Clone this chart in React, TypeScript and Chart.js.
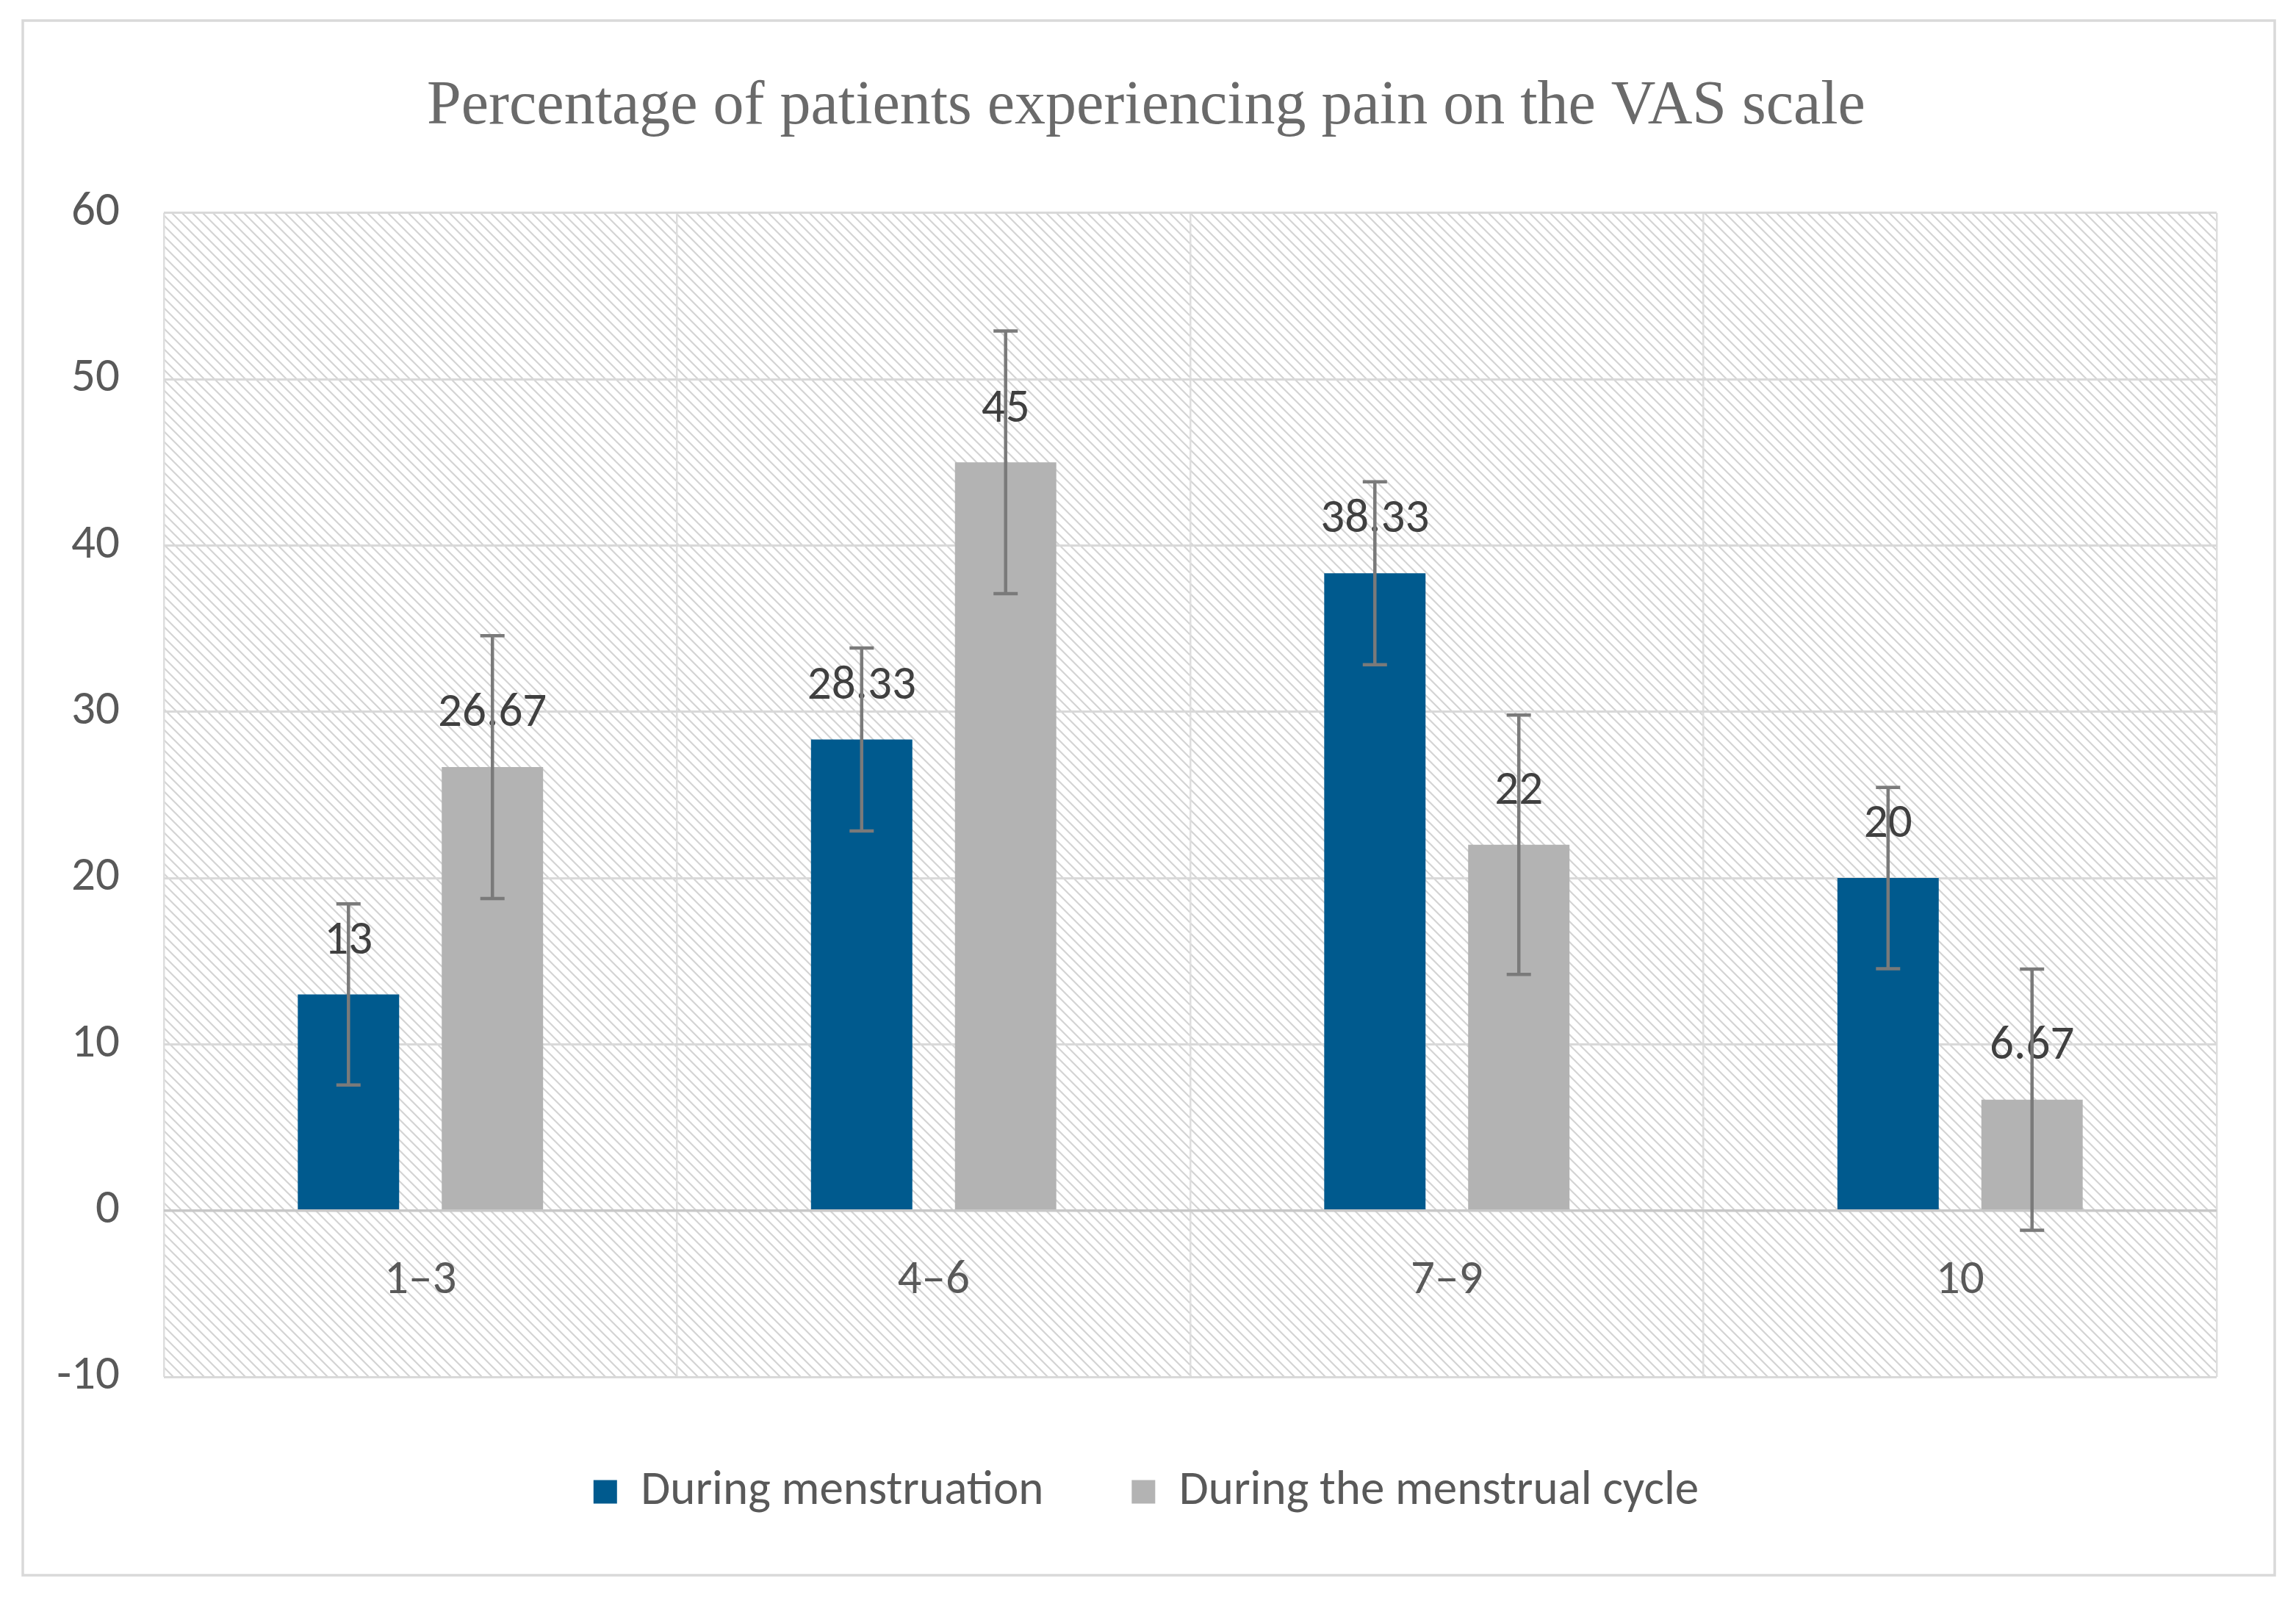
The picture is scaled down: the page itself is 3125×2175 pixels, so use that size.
import React, { useEffect, useRef } from "react";
import { Chart, registerables } from "chart.js";

Chart.register(...registerables);

const CATEGORIES = ["1–3", "4–6", "7–9", "10"];
const SERIES_NAMES = ["During menstruation", "During the menstrual cycle"];
const MENSTRUATION = [13, 28.33, 38.33, 20];
const CYCLE = [26.67, 45, 22, 6.67];
const MENSTRUATION_ERR = [5.45, 5.5, 5.5, 5.45];
const CYCLE_ERR = [7.9, 7.9, 7.8, 7.85];
const Y_MIN = -10;
const Y_MAX = 60;
const Y_STEP = 10;
const TITLE = "Percentage of patients experiencing pain on the VAS scale";

const SANS = "Carlito, Lato, 'Open Sans', sans-serif";
const SERIF = "'Liberation Serif', 'DejaVu Serif', serif";

const W = 3125;
const H = 2175;

function makeHatch(ctx: CanvasRenderingContext2D) {
  const c = document.createElement("canvas");
  const s = 14;
  c.width = s;
  c.height = s;
  const g = c.getContext("2d")!;
  g.fillStyle = "#ffffff";
  g.fillRect(0, 0, s, s);
  g.strokeStyle = "#d4d4d4";
  g.lineWidth = 2.2;
  g.beginPath();
  g.moveTo(-2, -2);
  g.lineTo(s + 2, s + 2);
  g.moveTo(-2, s - 2);
  g.lineTo(2, s + 2);
  g.moveTo(s - 2, -2);
  g.lineTo(s + 2, 2);
  g.stroke();
  return ctx.createPattern(c, "repeat");
}

const backgroundPlugin = {
  id: "bgHatch",
  beforeDraw(chart: any) {
    const { ctx, chartArea } = chart;
    ctx.save();
    ctx.fillStyle = "#ffffff";
    ctx.fillRect(0, 0, chart.width, chart.height);
    ctx.strokeStyle = "#d9d9d9";
    ctx.lineWidth = 3.5;
    ctx.strokeRect(31, 28, 3065, 2116);
    const pat = makeHatch(ctx);
    if (pat) {
      ctx.fillStyle = pat;
      ctx.fillRect(
        chartArea.left,
        chartArea.top,
        chartArea.right - chartArea.left,
        chartArea.bottom - chartArea.top
      );
    }
    ctx.restore();
  },
};

const errorBarPlugin = {
  id: "errorBars",
  afterDatasetsDraw(chart: any) {
    const { ctx } = chart;
    const yScale = chart.scales.y;
    const errs = [MENSTRUATION_ERR, CYCLE_ERR];
    ctx.save();
    // data labels
    ctx.font = `65px ${SANS}`;
    ctx.fillStyle = "#404040";
    ctx.textAlign = "center";
    ctx.textBaseline = "middle";
    chart.data.datasets.forEach((ds: any, di: number) => {
      const meta = chart.getDatasetMeta(di);
      meta.data.forEach((bar: any, i: number) => {
        ctx.fillText(String(ds.data[i]), bar.x, bar.y - 72);
      });
    });
    // error bars
    ctx.strokeStyle = "#7a7a7a";
    ctx.lineWidth = 4.5;
    chart.data.datasets.forEach((ds: any, di: number) => {
      const meta = chart.getDatasetMeta(di);
      meta.data.forEach((bar: any, i: number) => {
        const v = ds.data[i];
        const e = errs[di][i];
        const yTop = yScale.getPixelForValue(v + e);
        const yBot = yScale.getPixelForValue(v - e);
        const x = bar.x;
        const cap = 16.5;
        ctx.beginPath();
        ctx.moveTo(x, yTop);
        ctx.lineTo(x, yBot);
        ctx.moveTo(x - cap, yTop);
        ctx.lineTo(x + cap, yTop);
        ctx.moveTo(x - cap, yBot);
        ctx.lineTo(x + cap, yBot);
        ctx.stroke();
      });
    });
    ctx.restore();
  },
  afterDraw(chart: any) {
    const { ctx } = chart;
    const xScale = chart.scales.x;
    const yScale = chart.scales.y;
    const y0 = yScale.getPixelForValue(0);
    ctx.save();
    ctx.font = `65px ${SANS}`;
    ctx.fillStyle = "#595959";
    ctx.textAlign = "center";
    ctx.textBaseline = "middle";
    CATEGORIES.forEach((c, i) => {
      ctx.fillText(c, xScale.getPixelForValue(i), y0 + 96);
    });
    ctx.restore();
  },
};

export default function App() {
  const ref = useRef<HTMLCanvasElement | null>(null);

  useEffect(() => {
    document.body.style.margin = "0";
    const canvas = ref.current!;
    const chart = new Chart(canvas, {
      type: "bar",
      data: {
        labels: CATEGORIES,
        datasets: [
          {
            label: SERIES_NAMES[0],
            data: MENSTRUATION,
            backgroundColor: "#005a8e",
            borderWidth: 0,
            categoryPercentage: 0.561,
            barPercentage: 0.704,
          },
          {
            label: SERIES_NAMES[1],
            data: CYCLE,
            backgroundColor: "#b3b3b3",
            borderWidth: 0,
            categoryPercentage: 0.561,
            barPercentage: 0.704,
          },
        ],
      },
      options: {
        responsive: false,
        animation: false,
        devicePixelRatio: 1,
        layout: { padding: { top: 96, left: 40, right: 45, bottom: 102 } },
        plugins: {
          title: {
            display: true,
            text: TITLE,
            color: "#6a6a6a",
            font: { family: SERIF, size: 84, weight: "normal", lineHeight: 1.2 },
            padding: { top: 0, bottom: 93 },
          },
          legend: {
            display: true,
            position: "bottom",
            labels: {
              color: "#595959",
              font: { family: SANS, size: 65 },
              boxWidth: 32,
              boxHeight: 32,
              padding: 120,
            },
          },
          tooltip: { enabled: false },
        },
        scales: {
          x: {
            type: "category",
            grid: {
              display: true,
              offset: true,
              color: "#dedede",
              lineWidth: 2.5,
              drawTicks: false,
            },
            border: { display: false },
            ticks: { display: false },
            afterFit: (s: any) => {
              s.height = 4;
            },
          },
          y: {
            min: Y_MIN,
            max: Y_MAX,
            ticks: {
              stepSize: Y_STEP,
              color: "#595959",
              font: { family: SANS, size: 65 },
              padding: 60,
            },
            grid: {
              color: (c: any) => (c.tick && c.tick.value === 0 ? "#c8c8c8" : "#d9d9d9"),
              lineWidth: (c: any) => (c.tick && c.tick.value === 0 ? 3.5 : 3),
              drawTicks: false,
            },
            border: { display: false },
            afterFit: (s: any) => {
              s.width = 183;
            },
          },
          y2: {
            position: "right",
            min: Y_MIN,
            max: Y_MAX,
            grid: { display: false, drawTicks: false },
            border: { display: false },
            ticks: { display: false },
            afterFit: (s: any) => {
              s.width = 63;
            },
          },
        },
      },
      plugins: [backgroundPlugin, errorBarPlugin],
    } as any);
    return () => chart.destroy();
  }, []);

  return (
    <div style={{ position: "absolute", left: 0, top: 0, width: W, height: H }}>
      <canvas ref={ref} width={W} height={H} style={{ width: W, height: H, display: "block" }} />
    </div>
  );
}
